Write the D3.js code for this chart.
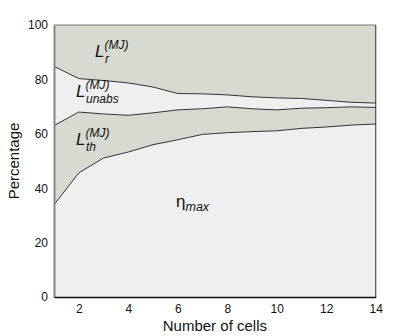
<!DOCTYPE html>
<html>
<head>
<meta charset="utf-8">
<script src="https://cdn.jsdelivr.net/npm/d3@7"></script>
<style>
  body { margin: 0; background: #fff; }
  svg text { font-family: "Liberation Sans", Arial, Helvetica, sans-serif; }
</style>
</head>
<body>
<svg id="chart"></svg>
<script>
// number of cells
var cells = [1, 2, 3, 4, 5, 6, 7, 8, 9, 10, 11, 12, 13, 14];
// percentage shares, bottom to top
var etaMax = [33.9, 45.6, 51.1, 53.3, 56.0, 57.8, 59.8, 60.4, 60.8, 61.1, 62.0, 62.5, 63.2, 63.6];
var lossTh = [29.1, 22.4, 16.2, 13.5, 11.7, 11.0, 9.4, 9.5, 8.4, 7.7, 7.4, 7.1, 6.7, 6.1];
var lossUnabs = [21.8, 12.3, 12.3, 11.9, 9.5, 6.0, 5.5, 4.4, 4.4, 4.4, 3.6, 2.7, 1.7, 1.6];
var lossR = [15.2, 19.7, 20.4, 21.3, 22.8, 25.2, 25.3, 25.7, 26.4, 26.8, 27.0, 27.7, 28.4, 28.7];
var xTicks = [2, 4, 6, 8, 10, 12, 14];
var yTicks = [0, 20, 40, 60, 80, 100];

var rows = cells.map(function(c, i) {
    return { n: c, eta: etaMax[i], th: lossTh[i], unabs: lossUnabs[i], r: lossR[i] };
});
var keys = ["eta", "th", "unabs", "r"];
var fills = { eta: "#efefef", th: "#d7dad0", unabs: "#efefef", r: "#d7dad0" };

const width = 415;
const height = 336;
const marginLeft = 54;
const marginRight = 39.25;
const marginTop = 25;
const marginBottom = 39;

const x = d3.scaleLinear([1, 14], [marginLeft, width - marginRight]);
const y = d3.scaleLinear([0, 100], [height - marginBottom, marginTop]);

var svg = d3.select("#chart")
    .attr("width", width)
    .attr("height", height)
    .attr("viewBox", [0, 0, width, height]);

var series = d3.stack().keys(keys)(rows);

var area = d3.area()
    .x(function(d) { return x(d.data.n); })
    .y0(function(d) { return y(d[0]); })
    .y1(function(d) { return y(d[1]); });

svg.append("g").selectAll("path")
    .data(series)
    .join("path")
    .attr("fill", function(s) { return fills[s.key]; })
    .attr("d", area);

// boundary lines between the layers
var line = d3.line()
    .x(function(d) { return x(d.data.n); })
    .y(function(d) { return y(d[1]); });

svg.append("g").selectAll("path")
    .data(series.slice(0, 3))
    .join("path")
    .attr("fill", "none")
    .attr("stroke", "#333")
    .attr("stroke-width", 1)
    .attr("d", line);

// frame top and right
svg.append("line")
    .attr("x1", x(1)).attr("x2", x(14))
    .attr("y1", y(100)).attr("y2", y(100))
    .attr("stroke", "#777");
svg.append("line")
    .attr("x1", x(14)).attr("x2", x(14))
    .attr("y1", y(100)).attr("y2", y(0))
    .attr("stroke", "#333");

// axes
var yAxis = svg.append("g")
    .attr("transform", "translate(" + marginLeft + ",0)")
    .call(d3.axisLeft(y).tickValues(yTicks).tickSize(0).tickPadding(6).tickSizeOuter(0));
yAxis.select(".domain").attr("stroke", "#888").attr("stroke-width", 2);
yAxis.selectAll("text").attr("font-size", 12).attr("fill", "#111")
    .attr("font-family", "Liberation Sans, Arial, sans-serif");

var xAxis = svg.append("g")
    .attr("transform", "translate(0," + (height - marginBottom) + ")")
    .call(d3.axisBottom(x).tickValues(xTicks).tickSize(0).tickPadding(7).tickSizeOuter(0));
xAxis.select(".domain").attr("stroke", "#111").attr("stroke-width", 1.5);
xAxis.selectAll("text").attr("font-size", 12).attr("fill", "#111")
    .attr("font-family", "Liberation Sans, Arial, sans-serif");

// axis titles
svg.append("text")
    .attr("x", (x(1) + x(14)) / 2)
    .attr("y", 331)
    .attr("text-anchor", "middle")
    .attr("font-size", 15)
    .attr("fill", "#111")
    .text("Number of cells");

svg.append("text")
    .attr("transform", "translate(19," + ((y(0) + y(100)) / 2) + ") rotate(-90)")
    .attr("text-anchor", "middle")
    .attr("font-size", 15)
    .attr("fill", "#111")
    .text("Percentage");

// region labels
function lossLabel(px, py, sub) {
    var t = svg.append("text").attr("x", px).attr("y", py).attr("fill", "#111")
        .attr("font-style", "italic");
    t.append("tspan").attr("font-size", 17).text("L");
    t.append("tspan").attr("font-size", 12).attr("dy", -8).text("(MJ)");
    t.append("tspan").attr("font-size", 12).attr("x", px + 10).attr("dy", 14).text(sub);
}
lossLabel(95, 57, "r");
lossLabel(76, 97, "unabs");
lossLabel(76, 145, "th");

var eta = svg.append("text").attr("x", 176).attr("y", 207).attr("fill", "#111");
eta.append("tspan").attr("font-size", 17).text("η");
eta.append("tspan").attr("font-size", 12.5).attr("font-style", "italic").attr("dy", 4).text("max");
</script>
</body>
</html>
